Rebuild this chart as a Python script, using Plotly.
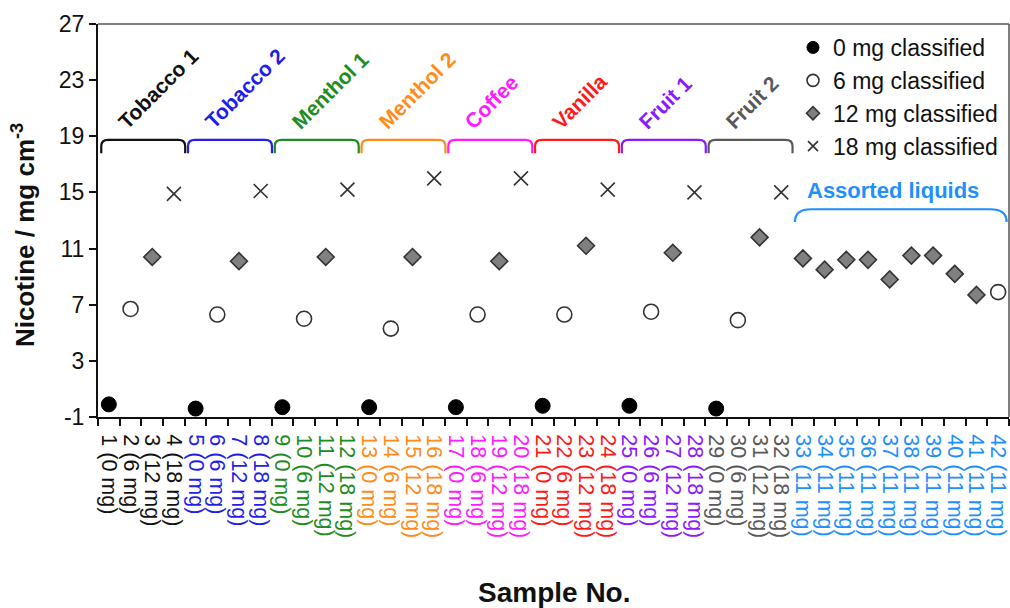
import plotly.graph_objects as go

# ---------------- data ----------------
samples = list(range(1, 43))
nicotine = [-0.1, 6.7, 10.4, 14.9, -0.4, 6.3, 10.1, 15.1,
            -0.3, 6.0, 10.4, 15.2, -0.3, 5.3, 10.4, 16.0,
            -0.3, 6.3, 10.1, 16.0, -0.2, 6.3, 11.2, 15.2,
            -0.2, 6.5, 10.7, 15.0, -0.4, 5.9, 11.8, 15.0,
            10.3, 9.5, 10.2, 10.2, 8.8, 10.5, 10.5, 9.2, 7.7, 7.9]
classified_mg = [0, 6, 12, 18] * 8 + [12] * 9 + [6]
labelled_mg = [0, 6, 12, 18] * 8 + [11] * 10

group_names = ["Tobacco 1", "Tobacco 2", "Menthol 1", "Menthol 2", "Coffee",
               "Vanilla", "Fruit 1", "Fruit 2", "Assorted liquids"]
group_first = [1, 5, 9, 13, 17, 21, 25, 29, 33]
group_last = [4, 8, 12, 16, 20, 24, 28, 32, 42]
group_colors = ["#111111", "#1f1fe8", "#1e8c1e", "#ff8c1a", "#ff1aff",
                "#ff1a1a", "#8c1aff", "#595959", "#1e8fff"]

y_ticks = [-1, 3, 7, 11, 15, 19, 23, 27]
y_tick_labels = ["-1", "3", "7", "11", "15", "19", "23", "27"]
classes = [0, 6, 12, 18]
legend_labels = ["0 mg classified", "6 mg classified",
                 "12 mg classified", "18 mg classified"]

# ---------------- styles ----------------
FONT = "Arial, Liberation Sans, sans-serif"
marker_styles = {
    0: dict(symbol="circle", size=15, color="#000000",
            line=dict(color="#000000", width=1)),
    6: dict(symbol="circle", size=15, color="#ffffff",
            line=dict(color="#333333", width=1.6)),
    12: dict(symbol="diamond", size=13, color="#808080",
             line=dict(color="#333333", width=1.6)),
    18: dict(symbol="x-thin-open", size=14, color="#333333",
             line=dict(color="#333333", width=1.6)),
}
legend_marker_sizes = {0: 12, 6: 12, 12: 10, 18: 10}


def color_of(sample):
    for f, l, c in zip(group_first, group_last, group_colors):
        if f <= sample <= l:
            return c
    return "#000000"


tick_text = [f'<span style="color:{color_of(s)}">{s} ({m} mg)</span>'
             for s, m in zip(samples, labelled_mg)]

fig = go.Figure()

for c in classes:
    xs = [s for s, k in zip(samples, classified_mg) if k == c]
    ys = [v for v, k in zip(nicotine, classified_mg) if k == c]
    fig.add_trace(go.Scatter(x=xs, y=ys, mode="markers",
                             marker=marker_styles[c], showlegend=False,
                             cliponaxis=False))

# legend-only traces with smaller markers
for c, lab in zip(classes, legend_labels):
    st = dict(marker_styles[c])
    st["size"] = legend_marker_sizes[c]
    fig.add_trace(go.Scatter(x=[None], y=[None], mode="markers",
                             marker=st, name=lab, showlegend=True))

shapes = []
annotations = []

# braces for flavour groups
for i, (f, l, c) in enumerate(zip(group_first, group_last, group_colors)):
    if i < 8:
        x0, x1 = f - 0.5 + 0.15, l + 0.5 + 0.02
        yt, yb = 18.74, 17.8
        rx, ry = 0.32, 0.45
        path = (f"M {x0},{yb} L {x0},{yt - ry} Q {x0},{yt} {x0 + rx},{yt} "
                f"L {x1 - rx},{yt} Q {x1},{yt} {x1},{yt - ry} L {x1},{yb}")
        shapes.append(dict(type="path", xref="x", yref="y", path=path,
                           line=dict(color=c, width=2.2)))
        annotations.append(dict(x=f - 0.5, y=yt, xref="x", yref="y",
                                text=f"<b>{group_names[i]}</b>",
                                textangle=-45, showarrow=False,
                                xanchor="left", yanchor="bottom",
                                xshift=13, yshift=4,
                                font=dict(family=FONT, size=21, color=c)))
    else:
        x0, x1 = f - 0.5 + 0.13, l + 0.5 - 0.11
        yt, yb = 13.8, 12.9
        rx = 0.75
        path = (f"M {x0},{yb} Q {x0},{yt} {x0 + rx},{yt} "
                f"L {x1 - rx},{yt} Q {x1},{yt} {x1},{yb}")
        shapes.append(dict(type="path", xref="x", yref="y", path=path,
                           line=dict(color=c, width=2.2)))
        annotations.append(dict(x=(f + l) / 2, y=yt, xref="x", yref="y",
                                text=f"<b>{group_names[i]}</b>",
                                showarrow=False, xanchor="center",
                                yanchor="bottom", yshift=4, xshift=-8,
                                font=dict(family=FONT, size=22, color=c)))

# top and right frame lines
shapes.append(dict(type="line", xref="paper", yref="paper", x0=0, x1=1,
                   y0=1, y1=1, line=dict(color="#555555", width=1.5)))
shapes.append(dict(type="line", xref="paper", yref="paper", x0=1, x1=1,
                   y0=0, y1=1, line=dict(color="#555555", width=1.5)))

# axis titles (targets relative to the 911x393 plot area)
annotations.append(dict(x=(23 - 98) / 911, y=1 - (235 - 24) / 393,
                        xref="paper", yref="paper",
                        text="<b>Nicotine / mg cm<sup>-3</sup></b>",
                        textangle=-90, showarrow=False,
                        xanchor="center", yanchor="middle",
                        font=dict(family=FONT, size=26, color="#111111")))
annotations.append(dict(x=(553.5 - 98) / 911, y=-(592 - 417) / 393,
                        xref="paper", yref="paper",
                        text="<b>Sample No.</b>", showarrow=False,
                        xanchor="center", yanchor="middle",
                        font=dict(family=FONT, size=28, color="#111111")))

fig.update_layout(
    width=1010, height=608,
    margin=dict(l=98, r=1, t=24, b=191, autoexpand=False),
    paper_bgcolor="white", plot_bgcolor="white",
    font=dict(family=FONT, color="#111111"),
    shapes=shapes, annotations=annotations,
    legend=dict(x=(793 - 98) / 911, y=1 - (26 - 24) / 393,
                xanchor="left", yanchor="top",
                bgcolor="rgba(0,0,0,0)",
                font=dict(family=FONT, size=23, color="#111111"),
                itemwidth=30),
)

fig.update_xaxes(
    range=[0.5, 42.5], tickmode="array", tickvals=samples, ticktext=tick_text,
    tickangle=90, ticks="outside", ticklen=11, tickcolor="rgba(0,0,0,0)",
    tickfont=dict(family=FONT, size=21.5), ticklabeloverflow="allow",
    showline=True, linecolor="#111111", linewidth=2,
    showgrid=False, zeroline=False, automargin=False,
    minor=dict(ticks="outside", ticklen=7, tickwidth=2, tickcolor="#111111",
               tickmode="linear", tick0=0.5, dtick=1, showgrid=False),
)
fig.update_yaxes(
    range=[-1, 27], tickmode="array", tickvals=y_ticks,
    ticktext=y_tick_labels,
    ticks="outside", ticklen=7, tickwidth=2, tickcolor="#111111",
    tickfont=dict(family=FONT, size=23, color="#111111"),
    showline=True, linecolor="#111111", linewidth=2,
    showgrid=False, zeroline=False, automargin=False,
)

# remove the default page margin so the 1010x608 figure fills the window
fig.write_html("out.html",
               config={"displayModeBar": False},
               post_script="document.body.style.margin='0';"
                           "document.body.style.overflow='hidden';")
